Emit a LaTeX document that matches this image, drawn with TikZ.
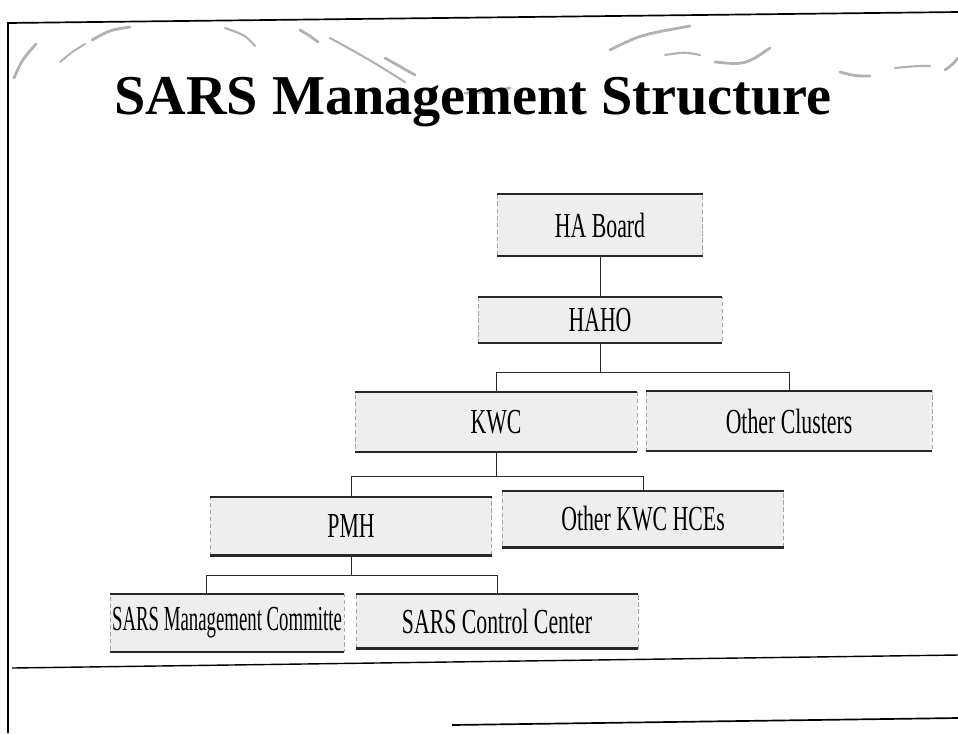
\documentclass[tikz,border=0pt]{standalone}
\usepackage{fontspec}
\setmainfont{Liberation Serif}
\newfontfamily\boxfont[FakeStretch=0.62]{Liberation Serif}
\newfontfamily\tightfont[FakeStretch=0.535]{Liberation Serif}
\usetikzlibrary{calc}
\definecolor{sars_fill}{RGB}{238, 238, 238}
\definecolor{sars_edge}{RGB}{40, 40, 40}

\begin{document}
\begin{tikzpicture}[x=0.025cm, y=-0.025cm,
      orgbox/.style={draw=gray!70, densely dashed, fill=sars_fill,
                  inner sep=0pt, font=\boxfont\fontsize{25}{29}\selectfont},
      rim/.style={line width=1.3pt, sars_edge},
      link/.style={line width=0.7pt, sars_edge},
      swirl/.style={line width=2pt, gray!60, line cap=round}]
      \useasboundingbox (0,0) rectangle (958,733);
      % slide frame
      \draw[line width=1.2pt] (8,733) -- (8,23) -- (958,12);
      \draw[line width=1pt] (12,668) -- (958,655);
      \draw[line width=1.2pt] (452,725) -- (958,718);
      % header swirls
      \draw[swirl] (14,78) .. controls (22,60) .. (36,44);
      \draw[swirl, line width=1.4pt] (60,62) .. controls (72,52) .. (85,44);
      \draw[swirl] (92,40) .. controls (110,30) .. (130,27);
      \draw[swirl, line width=1.5pt] (225,28) .. controls (245,35) .. (255,46);
      \draw[swirl] (300,30) .. controls (310,36) .. (318,42);
      \draw[swirl, line width=1.5pt] (330,38) .. controls (370,60) .. (405,82);
      \draw[swirl] (385,58) .. controls (400,66) .. (415,75);
      \draw[swirl] (465,93) .. controls (490,92) .. (510,88);
      \draw[swirl] (610,50) .. controls (640,35) .. (690,26);
      \draw[swirl, line width=1.5pt] (665,55) .. controls (685,52) .. (700,55);
      \draw[swirl] (715,62) .. controls (745,65) .. (770,48);
      \draw[swirl] (840,72) .. controls (855,76) .. (870,76);
      \draw[swirl, line width=1.5pt] (895,68) .. controls (915,66) .. (930,66);
      \draw[swirl] (945,70) .. controls (952,65) .. (958,58);
      % title
      \node[anchor=base, font=\bfseries\fontsize{40}{44}\selectfont] (title)
        at (473,114) {SARS Management Structure};
      % top of the chart
      \node[orgbox, minimum width=5.125cm, minimum height=1.525cm] (board)
        at (600,225) {HA Board};
      \node[orgbox, minimum width=6.1cm, minimum height=1.15cm] (haho)
        at (600,320) {HAHO};
      % clusters
      \node[orgbox, minimum width=7.05cm, minimum height=1.475cm] (kwc)
        at (496,422) {KWC};
      \node[orgbox, minimum width=7.15cm, minimum height=1.5cm] (clus)
        at (789,421) {Other Clusters};
      % hospitals
      \node[orgbox, minimum width=7.025cm, minimum height=1.45cm] (pmh)
        at (351,526) {PMH};
      \node[orgbox, minimum width=7.025cm, minimum height=1.4cm] (hces)
        at (643,519) {Other KWC HCEs};
      % SARS units
      \node[orgbox, font=\tightfont\fontsize{25}{29}\selectfont,
            minimum width=5.85cm, minimum height=1.425cm] (mgmt)
        at (227,623) {SARS Management Committe};
      \node[orgbox, minimum width=7.05cm, minimum height=1.35cm] (ctrl)
        at (497,621) {SARS Control Center};
      % solid top and bottom edges
      \foreach \b in {board,haho,kwc,clus,pmh,hces,mgmt,ctrl} {
        \draw[rim] (\b.north west) -- (\b.north east);
        \draw[rim, line width=1.7pt] (\b.south west) -- (\b.south east);
      }
      % connectors
      \coordinate (bus1) at (600,372);
      \coordinate (bus2) at (496,476);
      \coordinate (bus3) at (351,575);
      \draw[link] (board.south) -- (haho.north);
      \draw[link] (haho.south) -- (bus1);
      \draw[link] (kwc.north) |- (bus1) -| (clus.north);
      \draw[link] (kwc.south) -- (bus2);
      \draw[link] (pmh.north) |- (bus2) -| (hces.north);
      \draw[link] (pmh.south) -- (bus3);
      \draw[link] ($(mgmt.north)+(-21,0)$) |- (bus3) -| (ctrl.north);
    \end{tikzpicture}
\end{document}
